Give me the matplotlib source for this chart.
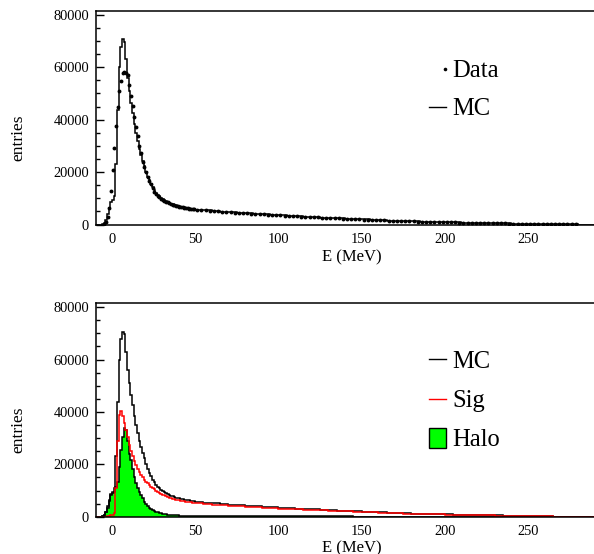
import numpy as np
import matplotlib
matplotlib.use("Agg")
import matplotlib.pyplot as plt
from matplotlib.lines import Line2D
from matplotlib.patches import Rectangle
from matplotlib.ticker import MultipleLocator

plt.rcParams["font.family"] = ["Liberation Serif", "DejaVu Serif"]

# binning: 1 MeV bins up to 50 MeV, 5 MeV bins in the tail
edges = np.concatenate([np.arange(-10, 51, 1), np.arange(55, 291, 5)])

# MC total (entries per bin)
mc_fine = [0, 0, 0, 0, 100, 600, 1700, 4000, 6300, 8500,
           9500, 11000, 23000, 43700, 60000, 67900, 70700, 69800, 63000, 56000,
           51000, 46500, 42500, 38500, 35000, 31800, 29000, 26500, 24300, 22300,
           20000, 18300, 16800, 15400, 14200, 13100, 12200, 11400, 10800, 10200,
           9700, 9300, 8900, 8600, 8300, 8000, 7750, 7500, 7300, 7100,
           6950, 6800, 6650, 6500, 6400, 6300, 6200, 6100, 6000, 5900]
mc_tail = [5700, 5400, 5150, 4900, 4650, 4450, 4250, 4050, 3850, 3650,
           3450, 3280, 3120, 2960, 2800, 2650, 2500, 2350, 2200, 2060,
           1920, 1780, 1650, 1520, 1400, 1300, 1200, 1110, 1020, 940,
           870, 800, 740, 680, 620, 560, 490, 420, 350, 290,
           230, 170, 110, 70, 35, 12, 0, 0]

# signal component
sig_fine = [0, 0, 0, 0, 0, 0, 0, 100, 300, 600,
            800, 1500, 11000, 29000, 38700, 40300, 38400, 35600, 33000, 30500,
            27300, 25000, 23000, 21300, 19800, 18400, 17200, 16100, 15100, 14200,
            13400, 12700, 12000, 11400, 10900, 10400, 9900, 9500, 9100, 8750,
            8400, 8100, 7800, 7550, 7300, 7100, 6900, 6700, 6550, 6400,
            6250, 6100, 5950, 5850, 5750, 5650, 5550, 5450, 5350, 5250]
sig_tail = [5150, 4880, 4650, 4430, 4210, 4020, 3840, 3660, 3480, 3300,
            3130, 2980, 2830, 2690, 2550, 2410, 2270, 2140, 2000, 1880,
            1750, 1620, 1500, 1380, 1280, 1180, 1090, 1010, 930, 860,
            790, 730, 670, 620, 560, 510, 440, 380, 320, 260,
            210, 150, 100, 60, 30, 10, 0, 0]

# halo component
halo_fine = [0, 0, 0, 0, 100, 600, 1700, 3500, 6000, 8300,
             9000, 9500, 11400, 13300, 19000, 25400, 30500, 33700, 33000, 29000,
             24000, 21600, 18400, 15200, 12700, 10800, 9500, 8300, 7000, 5800,
             4900, 4100, 3500, 3000, 2600, 2200, 1900, 1650, 1400, 1250,
             1100, 980, 880, 800, 720, 650, 600, 550, 510, 480,
             450, 430, 410, 390, 370, 350, 340, 330, 320, 310]
halo_tail = [300, 280, 260, 240, 220, 200, 185, 170, 160, 150,
             140, 130, 120, 110, 100, 95, 90, 85, 80, 75,
             70, 65, 60, 55, 50, 45, 40, 38, 35, 32,
             30, 28, 25, 22, 20, 18, 15, 12, 10, 8,
             6, 4, 2, 0, 0, 0, 0, 0]

# data points: 1 MeV bins to 50 MeV, then 2.5 MeV bins
data_fine = [0, 0, 0, 0, 0, 200, 1000, 2750, 6200, 12800,
             20800, 29300, 37600, 44700, 51000, 54800, 57700, 58100, 58000, 57000,
             53300, 49000, 45200, 41200, 37300, 33800, 30100, 27200, 24000, 22100,
             20200, 18300, 16700, 15300, 13800, 12500, 11700, 11000, 10400, 9900,
             9450, 9050, 8700, 8400, 8100, 7850, 7600, 7400, 7200, 7000,
             6850, 6700, 6550, 6400, 6300, 6200, 6100, 6000, 5900, 5800]
data_tail = [5650, 5500, 5380, 5250, 5130, 5000, 4880, 4760, 4650, 4540,
             4430, 4330, 4230, 4130, 4030, 3930, 3830, 3730, 3630, 3530,
             3440, 3350, 3260, 3180, 3100, 3020, 2940, 2860, 2780, 2700,
             2620, 2540, 2460, 2390, 2310, 2240, 2160, 2090, 2020, 1950,
             1880, 1810, 1740, 1680, 1610, 1550, 1490, 1430, 1370, 1320,
             1270, 1220, 1170, 1120, 1080, 1030, 990, 950, 910, 870,
             830, 800, 770, 740, 710, 680, 650, 620, 590, 560,
             530, 500, 460, 430, 400, 370, 330, 300, 270, 240,
             210, 180, 150, 120, 90, 65, 45, 30, 18, 10,
             5, 2, 0, 0, 0, 0]

mc = np.array(mc_fine + mc_tail)
sig = np.array(sig_fine + sig_tail)
halo = np.array(halo_fine + halo_tail)
data_x = np.concatenate([np.arange(-9.5, 50, 1.0), np.arange(51.25, 290, 2.5)])
data_y = np.array(data_fine + data_tail)

W, H = 594, 554
fig = plt.figure(figsize=(W / 100, H / 100), dpi=100)


def fx(px):
    return px / W


def fy(py):
    return 1 - py / H


def style_axes(ax):
    ax.set_xlim(-9.6, 289.7)
    ax.set_ylim(0, 81600)
    ax.yaxis.set_major_locator(MultipleLocator(20000))
    ax.yaxis.set_minor_locator(MultipleLocator(5000))
    ax.xaxis.set_major_locator(MultipleLocator(50))
    ax.tick_params(axis="y", which="both", direction="in", width=1.0, labelsize=10.4, pad=5)
    ax.tick_params(axis="y", which="major", length=6)
    ax.tick_params(axis="y", which="minor", length=3)
    ax.tick_params(axis="x", which="both", length=0, labelsize=10.4, pad=6.3)
    ax.spines["right"].set_visible(False)
    for s in ("left", "top", "bottom"):
        ax.spines[s].set_linewidth(1.1)


ax1 = fig.add_axes([fx(96), fy(224.5), fx(594) - fx(96), fy(10.7) - fy(224.5)])
ax1.stairs(mc, edges, color="black", lw=1.1)
keep = data_y > 0
ax1.plot(data_x[keep], data_y[keep], "o", ms=2.8, color="black", mew=0)
style_axes(ax1)

ax2 = fig.add_axes([fx(96), fy(516.7), fx(594) - fx(96), fy(303) - fy(516.7)])
ax2.stairs(halo, edges, fill=True, color="#00ff00", lw=0)
ax2.stairs(halo, edges, color="black", lw=1.1)
ax2.stairs(mc, edges, color="black", lw=1.1)
ax2.stairs(sig, edges, color="#ff0000", lw=1.1)
style_axes(ax2)

# axis titles
for base_y, mid_y in ((261, 138), (552, 430)):
    fig.text(fx(352), fy(base_y), "E (MeV)", ha="center", va="baseline", fontsize=12)
    fig.text(fx(18), fy(mid_y), "entries", ha="center", va="center", rotation=90, fontsize=12.5)

# legends
leg_fs = 17.7
fig.add_artist(Line2D([fx(445)], [fy(69)], marker="o", ms=2.6, color="black", mew=0))
fig.text(fx(452), fy(76.7), "Data", fontsize=leg_fs, va="baseline")
fig.add_artist(Line2D([fx(429), fx(446)], [fy(106.7), fy(106.7)], color="black", lw=1.0))
fig.text(fx(452), fy(115), "MC", fontsize=leg_fs, va="baseline")

fig.add_artist(Line2D([fx(429), fx(446)], [fy(359.3), fy(359.3)], color="black", lw=1.0))
fig.text(fx(452), fy(368.3), "MC", fontsize=leg_fs, va="baseline")
fig.add_artist(Line2D([fx(429), fx(446)], [fy(399), fy(399)], color="#ff0000", lw=1.0))
fig.text(fx(452), fy(406.7), "Sig", fontsize=leg_fs, va="baseline")
fig.add_artist(Rectangle((fx(429), fy(447.7)), fx(446) - fx(429), fy(428.3) - fy(447.7),
                         facecolor="#00ff00", edgecolor="black", lw=1.0,
                         transform=fig.transFigure))
fig.text(fx(452), fy(446), "Halo", fontsize=leg_fs, va="baseline")

fig.savefig("out.png", dpi=100)
